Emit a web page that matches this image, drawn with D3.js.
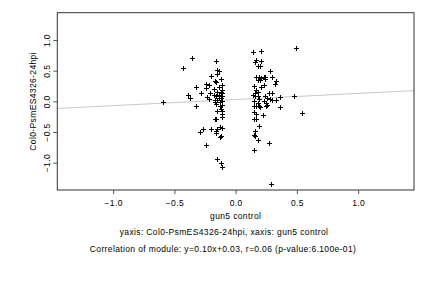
<!DOCTYPE html>
<html>
<head>
<meta charset="utf-8">
<script src="https://cdn.jsdelivr.net/npm/d3@7"></script>
<style>
body { margin: 0; background: #fff; }
text { font-family: "Liberation Sans", Arial, sans-serif; fill: #000; letter-spacing: 0.37px; }
</style>
</head>
<body>
<div id="chart"></div>
<script>
const width = 432;
const height = 288;
const marginTop = 12.7;
const marginRight = 18;
const marginBottom = 98;
const marginLeft = 57.3;

// points
const xs = [-0.59, -0.43, -0.36, -0.39, -0.37, -0.32, -0.32, -0.28, -0.29, -0.24, -0.27,
  -0.16, -0.15, -0.14, -0.15, -0.20, -0.12, -0.17, -0.16, -0.24, -0.22, -0.11, -0.14, -0.24,
  -0.18, -0.11, -0.12, -0.15, -0.21, -0.11, -0.18, -0.14, -0.12, -0.16, -0.11, -0.23, -0.14,
  -0.12, -0.22, -0.17, -0.15, -0.11, -0.17, -0.13, -0.16, -0.11, -0.13, -0.12, -0.11, -0.15,
  -0.11, -0.11, -0.17, -0.16, -0.13, -0.11, -0.15, -0.20, -0.16, -0.16, -0.12, -0.13, -0.15,
  -0.12, -0.11,
  0.14, 0.21, 0.17, 0.16, 0.21, 0.18, 0.20, 0.28, 0.17, 0.19, 0.21, 0.23, 0.24, 0.30, 0.18,
  0.20, 0.24, 0.33, 0.32, 0.15, 0.21, 0.23, 0.17, 0.16, 0.18, 0.27, 0.30, 0.14, 0.16, 0.18,
  0.24, 0.26, 0.36, 0.48, 0.19, 0.28, 0.30, 0.33, 0.15, 0.18, 0.23, 0.25, 0.26, 0.15, 0.17,
  0.19, 0.20, 0.36, 0.25, 0.15, 0.17, 0.22, 0.15, 0.17, 0.19, 0.16, 0.15, 0.16, 0.18, 0.15,
  0.27, 0.29, 0.54, 0.49];
const ys = [-0.01, 0.54, 0.71, 0.11, 0.05, 0.23, -0.07, 0.13, -0.50, -0.71, -0.45,
  0.66, 0.51, 0.49, 0.44, 0.41, 0.36, 0.33, 0.31, 0.28, 0.26, 0.26, 0.23, 0.21,
  0.20, 0.19, 0.16, 0.15, 0.14, 0.13, 0.11, 0.10, 0.09, 0.08, 0.08, 0.07, 0.06,
  0.06, 0.04, 0.03, 0.02, 0.01, -0.01, -0.01, -0.04, -0.06, -0.08, -0.12, -0.15, -0.16,
  -0.21, -0.26, -0.28, -0.29, -0.42, -0.43, -0.45, -0.45, -0.49, -0.52, -0.57, -0.58, -0.94,
  -1.00, -1.07,
  0.80, 0.82, 0.68, 0.64, 0.66, 0.57, 0.57, 0.49, 0.39, 0.39, 0.38, 0.39, 0.40, 0.40, 0.35,
  0.35, 0.36, 0.33, 0.29, 0.25, 0.24, 0.27, 0.18, 0.14, 0.16, 0.13, 0.13, 0.10, 0.09, 0.08,
  0.08, 0.06, 0.07, 0.09, 0.04, 0.04, 0.02, 0.02, 0.01, -0.02, 0.00, -0.03, -0.06, -0.07, -0.08,
  -0.08, -0.09, -0.09, -0.08, -0.18, -0.20, -0.23, -0.28, -0.28, -0.40, -0.48, -0.55, -0.57, -0.63, -0.79,
  -0.68, -1.35, -0.19, 0.87];

const xTicks = [-1.0, -0.5, 0.0, 0.5, 1.0];
const yTicks = [-1.0, -0.5, 0.0, 0.5, 1.0];
const slope = 0.10;
const intercept = 0.03;
const xLabel = "gun5 control";
const yLabel = "Col0-PsmES4326-24hpi";
const subtitle1 = "yaxis: Col0-PsmES4326-24hpi, xaxis: gun5 control";
const subtitle2 = "Correlation of module: y=0.10x+0.03, r=0.06 (p-value:6.100e-01)";

const svg = d3.select("#chart")
  .append("svg")
  .attr("width", width)
  .attr("height", height);

const x = d3.scaleLinear().domain([-1.456, 1.456]).range([marginLeft, width - marginRight]);
const y = d3.scaleLinear().domain([-1.446, 1.446]).range([190, marginTop]);

// regression line
svg.append("line")
  .attr("x1", x(-1.456)).attr("y1", y(slope * -1.456 + intercept))
  .attr("x2", x(1.456)).attr("y2", y(slope * 1.456 + intercept))
  .attr("stroke", "#c8c8c8")
  .attr("stroke-width", 1);

// points as + marks
const pts = svg.append("g").attr("stroke", "#000").attr("stroke-width", 1);
xs.forEach((v, i) => {
  const cx = Math.round(x(v)) + 0.5, cy = Math.round(y(ys[i])) + 0.5;
  pts.append("path").attr("d", `M${cx - 2.5},${cy}H${cx + 2.5}M${cx},${cy - 2.5}V${cy + 2.5}`);
});

// box
svg.append("rect")
  .attr("x", x.range()[0]).attr("y", marginTop)
  .attr("width", x.range()[1] - x.range()[0]).attr("height", 190 - marginTop)
  .attr("fill", "none").attr("stroke", "#333").attr("stroke-width", 1);

const xAxis = svg.append("g")
  .attr("transform", "translate(0,190)")
  .call(d3.axisBottom(x).tickValues(xTicks).tickFormat(d3.format(".1f")).tickSize(4).tickPadding(6));
xAxis.select(".domain").remove();
xAxis.selectAll("text").style("font-size", "8.5px").attr("fill", "#000");
xAxis.selectAll("line").attr("stroke", "#555");

const yAxis = svg.append("g")
  .attr("transform", `translate(${marginLeft},0)`)
  .call(d3.axisLeft(y).tickValues(yTicks).tickFormat(d3.format(".1f")).tickSize(4));
yAxis.select(".domain").remove();
yAxis.selectAll("line").attr("stroke", "#555");
yAxis.selectAll("text")
  .style("font-size", "8.5px").attr("fill", "#000")
  .attr("x", 0).attr("y", 0).attr("dy", null)
  .attr("text-anchor", "middle")
  .attr("transform", "translate(-7.5,0) rotate(-90)");

svg.append("text")
  .attr("transform", `translate(36,${y(0)}) rotate(-90)`)
  .attr("text-anchor", "middle")
  .style("font-size", "8.5px")
  .text(yLabel);

svg.append("text")
  .attr("x", x(0)).attr("y", 219)
  .attr("text-anchor", "middle")
  .style("font-size", "8.5px")
  .text(xLabel);

svg.append("text")
  .attr("x", 224).attr("y", 235)
  .attr("text-anchor", "middle")
  .style("font-size", "8.5px")
  .text(subtitle1);

svg.append("text")
  .attr("x", 223).attr("y", 252)
  .attr("text-anchor", "middle")
  .style("font-size", "8.5px")
  .text(subtitle2);
</script>
</body>
</html>
